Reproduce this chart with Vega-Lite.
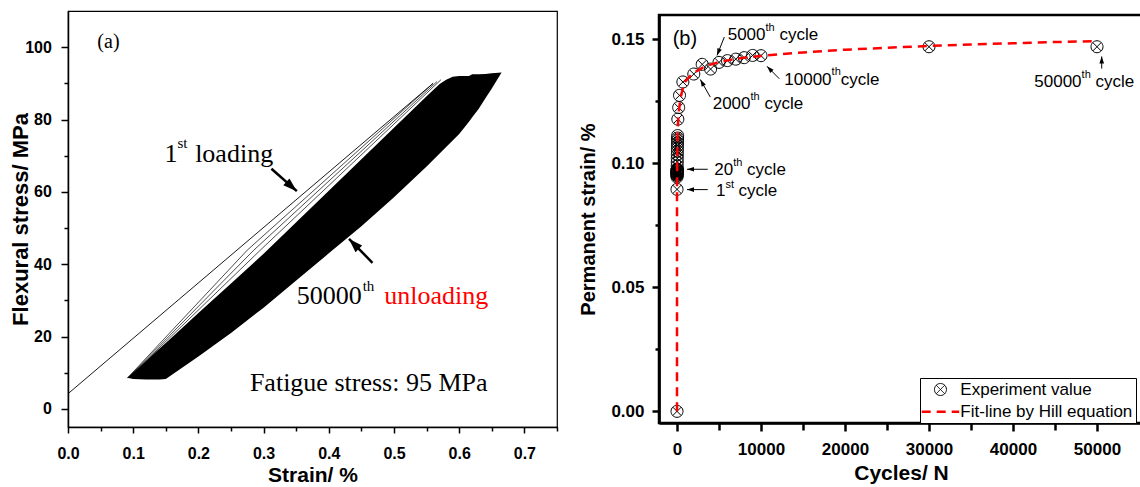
{
"$schema":"https://vega.github.io/schema/vega-lite/v6.json",
"background":"white",
"autosize":{"type":"pad"},
"padding":{"left":9,"top":10,"right":0,"bottom":0},
"config":{
 "axis":{"labelFont":"Liberation Sans","labelFontWeight":"bold","titleFont":"Liberation Sans","titleFontWeight":"bold","labelColor":"black","titleColor":"black","domainColor":"black","tickColor":"black","grid":false,"labelFlush":false,"labelOverlap":false},
 "legend":{"orient":"none","legendX":852,"legendY":367,"strokeColor":"black","strokeWidth":1,"fillColor":"white","padding":3,"rowPadding":4.8,"labelFont":"Liberation Sans","labelFontSize":17,"labelColor":"black","labelOffset":10.9,"labelLimit":400,"symbolOffset":8.45,"symbolSize":225,"labelBaseline":"middle","symbolStrokeWidth":1}
},
"spacing":102,
"bounds":"flush",
"center":true,
"datasets":{
 "band":[
  {"strain":0.091,"stress":8.6,"stress2":8.6},
  {"strain":0.1,"stress":10.0,"stress2":8.3},
  {"strain":0.12,"stress":13.3,"stress2":8.1},
  {"strain":0.14,"stress":16.6,"stress2":8.1},
  {"strain":0.15,"stress":18.2,"stress2":8.3},
  {"strain":0.2,"stress":26.5,"stress2":14.5},
  {"strain":0.25,"stress":34.7,"stress2":21.0},
  {"strain":0.3,"stress":42.9,"stress2":28.0},
  {"strain":0.35,"stress":51.6,"stress2":35.5},
  {"strain":0.4,"stress":60.3,"stress2":43.0},
  {"strain":0.45,"stress":69.0,"stress2":50.5},
  {"strain":0.5,"stress":77.7,"stress2":58.5},
  {"strain":0.55,"stress":86.4,"stress2":67.0},
  {"strain":0.57,"stress":89.8,"stress2":70.6},
  {"strain":0.58,"stress":91.0,"stress2":72.4},
  {"strain":0.59,"stress":91.8,"stress2":74.2},
  {"strain":0.6,"stress":92.0,"stress2":76.0},
  {"strain":0.615,"stress":92.0,"stress2":79.4},
  {"strain":0.62,"stress":92.5,"stress2":80.6},
  {"strain":0.63,"stress":92.5,"stress2":83.0},
  {"strain":0.64,"stress":92.6,"stress2":85.8},
  {"strain":0.65,"stress":92.8,"stress2":88.6},
  {"strain":0.665,"stress":93.0,"stress2":93.0}
 ],
 "strands":[
  {"curve":"c2","strain":0.091,"stress":8.5},{"curve":"c2","strain":0.275,"stress":43.9},{"curve":"c2","strain":0.56,"stress":90.0},
  {"curve":"c3","strain":0.092,"stress":8.6},{"curve":"c3","strain":0.285,"stress":43.9},{"curve":"c3","strain":0.566,"stress":90.5},
  {"curve":"c4","strain":0.093,"stress":8.7},{"curve":"c4","strain":0.295,"stress":43.9},{"curve":"c4","strain":0.572,"stress":91.0}
 ],
 "first":[{"strain":0,"stress":4.2},{"strain":0.56,"stress":90.0}],
 "arrowsA":[
  {"strain":0.312,"stress":66.4,"strain2":0.351,"stress2":60.2,"dir":131.5},
  {"strain":0.467,"stress":40.4,"strain2":0.431,"stress2":47.0,"dir":315.5}
 ],
 "textA":[
  {"strain":0.148,"stress":70.5,"t":"1"},
  {"strain":0.195,"stress":70.5,"t":"loading"},
  {"strain":0.351,"stress":31.1,"t":"50000"},
  {"strain":0.279,"stress":7.1,"t":"Fatigue stress: 95 MPa"}
 ],
 "supA":[
  {"strain":0.168,"stress":73.4,"t":"st"},
  {"strain":0.452,"stress":34.0,"t":"th"}
 ],
 "redA":[{"strain":0.485,"stress":31.1,"t":"unloading"}],
 "labelA":[{"strain":0.045,"stress":101.4,"t":"(a)"}],
 "exp":[
  {"N":0,"strain":0.0},{"N":1,"strain":0.0895},{"N":2,"strain":0.0945},{"N":3,"strain":0.095},{"N":4,"strain":0.0953},
  {"N":5,"strain":0.0956},{"N":6,"strain":0.0959},{"N":7,"strain":0.0961},{"N":8,"strain":0.0963},{"N":9,"strain":0.0965},
  {"N":10,"strain":0.0967},{"N":12,"strain":0.097},{"N":14,"strain":0.0972},{"N":16,"strain":0.0974},{"N":18,"strain":0.0975},
  {"N":20,"strain":0.0977},{"N":25,"strain":0.099},{"N":30,"strain":0.1005},{"N":35,"strain":0.102},{"N":40,"strain":0.1035},
  {"N":45,"strain":0.1048},{"N":50,"strain":0.106},{"N":55,"strain":0.1072},{"N":60,"strain":0.1083},{"N":65,"strain":0.1093},
  {"N":70,"strain":0.1102},{"N":75,"strain":0.1112},{"N":100,"strain":0.1178},{"N":200,"strain":0.1225},{"N":300,"strain":0.1274},
  {"N":700,"strain":0.1328},{"N":2000,"strain":0.136},{"N":3000,"strain":0.1399},{"N":4000,"strain":0.138},{"N":5000,"strain":0.1407},
  {"N":6000,"strain":0.1414},{"N":7000,"strain":0.142},{"N":8000,"strain":0.1426},{"N":9000,"strain":0.1435},{"N":10000,"strain":0.1434},
  {"N":30000,"strain":0.147},{"N":50000,"strain":0.147}
 ],
 "fit":[
  {"N":0,"strain":0},{"N":1,"strain":0.085},{"N":10,"strain":0.097},{"N":50,"strain":0.108},{"N":100,"strain":0.115},
  {"N":200,"strain":0.1205},{"N":400,"strain":0.1258},{"N":700,"strain":0.1305},{"N":1000,"strain":0.133},{"N":1500,"strain":0.135},
  {"N":2000,"strain":0.1365},{"N":3000,"strain":0.1385},{"N":4000,"strain":0.1398},{"N":5000,"strain":0.1408},{"N":6000,"strain":0.1415},
  {"N":7000,"strain":0.1421},{"N":8000,"strain":0.1426},{"N":10000,"strain":0.1433},{"N":15000,"strain":0.1447},{"N":20000,"strain":0.1458},
  {"N":25000,"strain":0.1466},{"N":30000,"strain":0.1473},{"N":35000,"strain":0.1479},{"N":40000,"strain":0.1484},{"N":45000,"strain":0.1489},
  {"N":50000,"strain":0.1493}
 ],
 "arrowsB":[
  {"N":5631,"strain":0.1509,"N2":4762,"strain2":0.1435,"dir":201.6},
  {"N":12179,"strain":0.1341,"N2":10714,"strain2":0.1391,"dir":315.2},
  {"N":3964,"strain":0.1267,"N2":2774,"strain2":0.1338,"dir":330.4},
  {"N":3655,"strain":0.0976,"N2":1190,"strain2":0.0976,"dir":270},
  {"N":3655,"strain":0.0894,"N2":1190,"strain2":0.0894,"dir":270},
  {"N":50560,"strain":0.1382,"N2":50560,"strain2":0.1431,"dir":0}
 ],
 "textB":[
  {"N":6036,"strain":0.1516,"t":"5000"},{"N":12190,"strain":0.1516,"t":"cycle"},
  {"N":12774,"strain":0.13347,"t":"10000"},{"N":19500,"strain":0.13347,"t":"cycle"},
  {"N":4250,"strain":0.12407,"t":"2000"},{"N":10405,"strain":0.12407,"t":"cycle"},
  {"N":4440,"strain":0.0973,"t":"20"},{"N":8345,"strain":0.0973,"t":"cycle"},
  {"N":4643,"strain":0.0887,"t":"1"},{"N":7310,"strain":0.0887,"t":"cycle"},
  {"N":42536,"strain":0.13278,"t":"50000"},{"N":49821,"strain":0.13278,"t":"cycle"}
 ],
 "supB":[
  {"N":10536,"strain":0.1544,"t":"th"},{"N":18405,"strain":0.13669,"t":"th"},{"N":8750,"strain":0.1269,"t":"th"},
  {"N":6690,"strain":0.1001,"t":"th"},{"N":5774,"strain":0.09115,"t":"st"},{"N":48167,"strain":0.1356,"t":"th"}
 ],
 "labelB":[{"N":-512,"strain":0.1503,"t":"(b)"}]
},
"hconcat":[
 {
  "width":489,"height":416,
  "view":{"stroke":"black","strokeWidth":1.2},
  "encoding":{
   "x":{"field":"strain","type":"quantitative","scale":{"domain":[0,0.75],"nice":false,"zero":false},
        "axis":{"title":"Strain/ %","values":[0,0.05,0.1,0.15,0.2,0.25,0.3,0.35,0.4,0.45,0.5,0.55,0.6,0.65,0.7,0.75],
                "labelExpr":"round(datum.value*100) % 10 == 0 ? format(datum.value, '.1f') : ''",
                "tickSize":{"condition":{"test":"round(datum.value*100) % 10 == 0","value":6},"value":4},
                "tickWidth":1.5,"domainWidth":1.5,"labelFontSize":16,"titleFontSize":21,"labelPadding":12.8,"titleY":48,"titleBaseline":"middle"}},
   "y":{"field":"stress","type":"quantitative","scale":{"domain":[-5,110],"nice":false,"zero":false},
        "axis":{"title":"Flexural stress/ MPa","values":[0,10,20,30,40,50,60,70,80,90,100],
                "labelExpr":"datum.value % 20 == 0 ? format(datum.value, 'd') : ''",
                "tickSize":{"condition":{"test":"datum.value % 20 == 0","value":7},"value":4},
                "tickWidth":1.5,"domainWidth":1.5,"labelFontSize":16,"titleFontSize":22,"labelPadding":9.6,"titleX":-47.3,"titleBaseline":"middle"}}
  },
  "layer":[
   {"data":{"name":"band"},"mark":{"type":"area","color":"black","orient":"vertical"},"encoding":{"y2":{"field":"stress2"}}},
   {"data":{"name":"strands"},"mark":{"type":"line","color":"black","strokeWidth":0.7},"encoding":{"detail":{"field":"curve"}}},
   {"data":{"name":"first"},"mark":{"type":"line","color":"black","strokeWidth":0.9},"encoding":{}},
   {"data":{"name":"arrowsA"},"mark":{"type":"rule","color":"black","strokeWidth":2.5},"encoding":{"x2":{"field":"strain2"},"y2":{"field":"stress2"}}},
   {"data":{"name":"arrowsA"},"mark":{"type":"point","shape":"M0,0L0.4,1.2L-0.4,1.2Z","filled":true,"color":"black","size":544,"opacity":1},
    "encoding":{"x":{"field":"strain2","type":"quantitative"},"y":{"field":"stress2","type":"quantitative"},"angle":{"field":"dir","type":"quantitative","scale":null}}},
   {"data":{"name":"textA"},"mark":{"type":"text","font":"Liberation Serif","fontSize":26,"align":"left","baseline":"middle","color":"black"},"encoding":{"text":{"field":"t"}}},
   {"data":{"name":"supA"},"mark":{"type":"text","font":"Liberation Serif","fontSize":15,"align":"left","baseline":"middle","color":"black"},"encoding":{"text":{"field":"t"}}},
   {"data":{"name":"redA"},"mark":{"type":"text","font":"Liberation Serif","fontSize":26,"align":"left","baseline":"middle","color":"#ff0000"},"encoding":{"text":{"field":"t"}}},
   {"data":{"name":"labelA"},"mark":{"type":"text","font":"Liberation Serif","fontSize":20,"align":"left","baseline":"middle","color":"black"},"encoding":{"text":{"field":"t"}}}
  ]
 },
 {
  "width":484,"height":408,
  "view":{"stroke":"black","strokeWidth":2.5},
  "encoding":{
   "x":{"field":"N","type":"quantitative","scale":{"domain":[-2143,55476],"nice":false,"zero":false},
        "axis":{"title":"Cycles/ N","values":[0,5000,10000,15000,20000,25000,30000,35000,40000,45000,50000],
                "labelExpr":"datum.value % 10000 == 0 ? format(datum.value, 'd') : ''",
                "tickSize":{"condition":{"test":"datum.value % 10000 == 0","value":8},"value":7},
                "tickWidth":2.5,"domainWidth":2.7,"labelFontSize":17,"titleFontSize":21,"labelPadding":10.5,"titleY":50.3,"titleBaseline":"middle"}},
   "y":{"field":"strain","type":"quantitative","scale":{"domain":[-0.0047,0.1598],"nice":false,"zero":false},
        "axis":{"title":"Permanent strain/ %","values":[0,0.025,0.05,0.075,0.1,0.125,0.15],
                "labelExpr":"round(datum.value*1000) % 50 == 0 ? format(datum.value, '.2f') : ''",
                "tickSize":{"condition":{"test":"round(datum.value*1000) % 50 == 0","value":7},"value":4},
                "tickWidth":2.5,"domainWidth":2.7,"labelFontSize":17,"titleFontSize":20,"labelPadding":8,"titleX":-71,"titleBaseline":"middle"}}
  },
  "layer":[
   {"data":{"name":"exp"},"transform":[{"calculate":"'Experiment value'","as":"series"}],
    "mark":{"type":"point","filled":false,"size":225,"opacity":1},
    "encoding":{
     "shape":{"field":"series","type":"nominal","scale":{"domain":["Experiment value","Fit-line by Hill equation"],"range":["M0.8,0A0.8,0.8,0,1,1,-0.8,0A0.8,0.8,0,1,1,0.8,0ZM-0.566,-0.566L0.566,0.566M-0.566,0.566L0.566,-0.566","M-2.5,0L2.5,0"]},"legend":{"title":null}},
     "color":{"field":"series","type":"nominal","scale":{"domain":["Experiment value","Fit-line by Hill equation"],"range":["black","#ff0000"]},"legend":{"title":null}},
     "strokeWidth":{"field":"series","type":"nominal","scale":{"domain":["Experiment value","Fit-line by Hill equation"],"range":[1,2.5],"padding":0},"legend":{"title":null}}
    }},
   {"data":{"name":"fit"},"transform":[{"calculate":"'Fit-line by Hill equation'","as":"series"}],
    "mark":{"type":"line"},
    "encoding":{
     "color":{"field":"series","type":"nominal","scale":{"domain":["Experiment value","Fit-line by Hill equation"],"range":["black","#ff0000"]},"legend":{"title":null}},
     "strokeDash":{"field":"series","type":"nominal","scale":{"domain":["Experiment value","Fit-line by Hill equation"],"range":[[1,0],[9,6]]},"legend":{"title":null}},
     "strokeWidth":{"field":"series","type":"nominal","scale":{"domain":["Experiment value","Fit-line by Hill equation"],"range":[1,2.5],"padding":0},"legend":{"title":null}}
    }},
   {"data":{"name":"arrowsB"},"mark":{"type":"rule","color":"black","strokeWidth":1},"encoding":{"x2":{"field":"N2"},"y2":{"field":"strain2"}}},
   {"data":{"name":"arrowsB"},"mark":{"type":"point","shape":"M0,0L0.4,1.2L-0.4,1.2Z","filled":true,"color":"black","size":136,"opacity":1},
    "encoding":{"x":{"field":"N2","type":"quantitative"},"y":{"field":"strain2","type":"quantitative"},"angle":{"field":"dir","type":"quantitative","scale":null}}},
   {"data":{"name":"textB"},"mark":{"type":"text","font":"Liberation Sans","fontSize":17,"align":"left","baseline":"middle","color":"black"},"encoding":{"text":{"field":"t"}}},
   {"data":{"name":"supB"},"mark":{"type":"text","font":"Liberation Sans","fontSize":11,"align":"left","baseline":"middle","color":"black"},"encoding":{"text":{"field":"t"}}},
   {"data":{"name":"labelB"},"mark":{"type":"text","font":"Liberation Sans","fontSize":20,"align":"left","baseline":"middle","color":"black"},"encoding":{"text":{"field":"t"}}}
  ]
 }
]
}
